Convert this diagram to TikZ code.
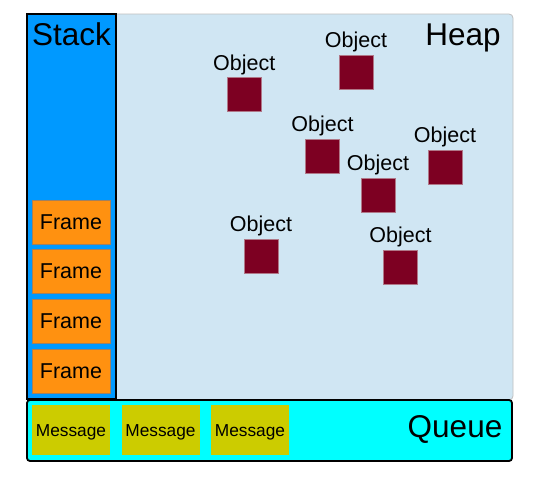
\documentclass[tikz,border=0pt]{standalone}
\usepackage{fontspec}
\setmainfont{Liberation Sans}
\definecolor{stackblue}{HTML}{0099FF}
\definecolor{heapblue}{HTML}{D0E6F3}
\definecolor{heapline}{HTML}{BFBFBF}
\definecolor{frameorange}{HTML}{FF9110}
\definecolor{frameline}{HTML}{A08060}
\definecolor{msgyellow}{HTML}{CCCC00}
\definecolor{queuecyan}{HTML}{00FFFF}
\definecolor{objred}{HTML}{7D0022}
\definecolor{objline}{HTML}{B07888}
\begin{document}
\begin{tikzpicture}[x=1pt,y=-1pt,
  area/.style={anchor=north west, inner sep=0pt, outer sep=0pt},
  heapbox/.style={area, fill=heapblue, draw=heapline, line width=0.8pt, rounded corners=4pt},
  stackbox/.style={area, fill=stackblue, draw=black, line width=1.8pt},
  queuebox/.style={area, fill=queuecyan, draw=black, line width=1.8pt, rounded corners=3pt},
  framebox/.style={fill=frameorange, draw=frameline, line width=0.5pt, minimum width=78pt, minimum height=44pt, inner sep=0pt, font=\fontsize{21.5pt}{24pt}\selectfont, text height=15.5pt, text depth=0pt},
  msgbox/.style={fill=msgyellow, minimum width=78pt, minimum height=50pt, inner sep=0pt, font=\fontsize{17.3pt}{20pt}\selectfont, text height=12.4pt, text depth=0pt},
  objbox/.style={fill=objred, draw=objline, line width=0.5pt, minimum size=34pt, inner sep=0pt},
  objlabel/.style={anchor=base, inner sep=0pt, font=\fontsize{21.5pt}{24pt}\selectfont},
  title/.style={anchor=base, inner sep=0pt, font=\fontsize{31.5pt}{34pt}\selectfont}
]
\useasboundingbox (0,0) rectangle (549,480);
% heap background
\node[heapbox, minimum width=486pt, minimum height=386pt] (heap) at (27,14) {};
% stack
\node[stackbox, minimum width=89pt, minimum height=385pt] (stack) at (27,14) {};
% queue
\node[queuebox, minimum width=485pt, minimum height=61pt] (queue) at (27,400) {};
% titles
\node[title] (stacktitle) at (71.5,45.5) {Stack};
\node[title] (heaptitle) at (463,45) {Heap};
\node[title] (queuetitle) at (455,437) {Queue};
% frames
\node[framebox] (f1) at (71,222) {Frame};
\node[framebox] (f2) at (71,271) {Frame};
\node[framebox] (f3) at (71,321) {Frame};
\node[framebox] (f4) at (71,371) {Frame};
% messages
\node[msgbox] (m1) at (71,430) {Message};
\node[msgbox] (m2) at (160.5,430) {Message};
\node[msgbox] (m3) at (250,430) {Message};
% objects
\foreach \n/\x/\y in {1/244.3/94.3, 2/356/72, 3/322.5/156, 4/445/167, 5/378/195, 6/261/256, 7/400.5/267}{
  \node[objbox] (o\n) at (\x,\y) {};
  \node[objlabel] (ol\n) at ([yshift=7pt]o\n.north) {Object};
}
\end{tikzpicture}
\end{document}
